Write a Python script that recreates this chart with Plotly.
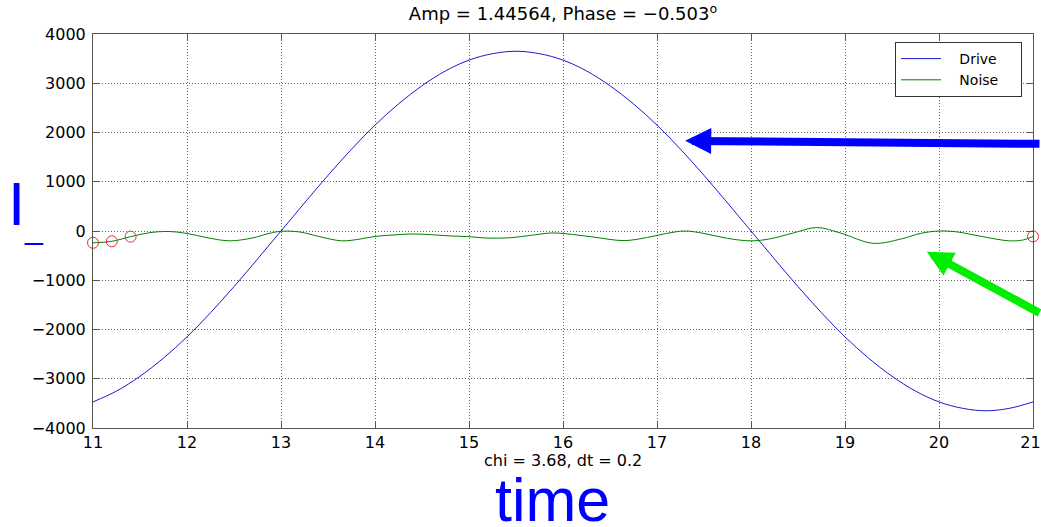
import plotly.graph_objects as go

# ---- data ----
drive_t = [11.0 + 0.25 * i for i in range(41)]
drive_v = [-3470, -3250, -2950, -2580, -2150, -1660, -1130, -570, 0, 570,
           1130, 1660, 2150, 2580, 2950, 3250, 3470, 3600, 3650, 3600,
           3470, 3250, 2950, 2580, 2150, 1660, 1130, 570, 0, -570,
           -1130, -1660, -2150, -2580, -2950, -3250, -3470, -3600, -3650, -3600,
           -3470]

noise_t = [11.0, 11.2, 11.4, 11.6, 11.8, 12.0, 12.2, 12.45, 12.7, 12.85,
           13.0, 13.2, 13.4, 13.65, 13.85, 14.0, 14.2, 14.4, 14.6, 14.8,
           15.0, 15.2, 15.45, 15.65, 15.88, 16.1, 16.35, 16.65, 16.9, 17.1,
           17.3, 17.5, 17.75, 18.0, 18.2, 18.45, 18.7, 18.95, 19.3, 19.6,
           19.8, 20.0, 20.2, 20.45, 20.75, 20.9, 21.0]
noise_v = [-240, -210, -115, -35, -10, -50, -130, -200, -140, -60,
           -5, -20, -110, -200, -160, -110, -80, -60, -75, -100,
           -115, -145, -135, -90, -40, -70, -130, -195, -130, -50,
           0, -50, -150, -200, -160, -40, 70, -40, -250, -160,
           -50, 0, -20, -110, -200, -180, -110]

mark_t = [11.0, 11.2, 11.4, 21.0]
mark_v = [-240, -210, -115, -110]

x_ticks = list(range(11, 22))
y_ticks = list(range(-4000, 4001, 1000))

series_names = ["Drive", "Noise"]
title_text = "Amp = 1.44564, Phase = \u22120.503<sup>o</sup>"
sub_text = "chi = 3.68, dt = 0.2"

FONT = "DejaVu Sans"
W, H = 1041, 527
L, R, T, B = 93, 8, 34, 99
PW, PH = W - L - R, H - T - B


def px(x):
    return (x - L) / PW


def py(y):
    return (H - B - y) / PH


NB = "\u00a0"

fig = go.Figure()
fig.add_trace(go.Scatter(x=drive_t, y=drive_v, mode="lines",
                         name=NB * 3 + series_names[0] + NB * 4,
                         line=dict(color="#1a1ad0", width=1, shape="spline")))
fig.add_trace(go.Scatter(x=noise_t, y=noise_v, mode="lines",
                         name=NB * 3 + series_names[1] + NB * 4,
                         line=dict(color="#008000", width=1, shape="spline")))
fig.add_trace(go.Scatter(x=mark_t, y=mark_v, mode="markers", showlegend=False,
                         cliponaxis=False,
                         marker=dict(symbol="circle-open", size=11,
                                     color="#e03030", line=dict(width=1))))

axis_common = dict(
    showline=True, linecolor="#555", linewidth=1, mirror="ticks",
    ticks="inside", ticklen=6, tickcolor="#555",
    showgrid=True, gridcolor="#666", gridwidth=1, griddash="1px,2px",
    zeroline=False, ticklabeloverflow="allow", automargin=False,
    tickfont=dict(family=FONT, size=16, color="black"),
)

x_ticktext = [str(v) for v in x_ticks]
x_ticktext[-1] = x_ticktext[-1] + NB  # keep the last label inside the page

fig.update_xaxes(range=[11, 21], tickvals=x_ticks, ticktext=x_ticktext,
                 **axis_common)
fig.update_yaxes(range=[-4000, 4000], tickvals=y_ticks,
                 ticktext=[str(v).replace("-", "\u2212") for v in y_ticks],
                 ticklabelstandoff=3, **axis_common)

fig.update_layout(
    width=W, height=H,
    margin=dict(l=L, r=R, t=T, b=B, autoexpand=False),
    plot_bgcolor="white", paper_bgcolor="white",
    title=dict(text=title_text, x=0.5, xref="paper", xanchor="center",
               y=1 - 14 / H, yref="container", yanchor="middle",
               font=dict(family=FONT, size=18, color="black")),
    legend=dict(x=px(1022), xanchor="right", y=py(42), yanchor="top",
                bgcolor="white", bordercolor="#333", borderwidth=1,
                font=dict(family=FONT, size=14, color="black"),
                itemwidth=40, tracegroupgap=0),
    showlegend=True,
)

annotations = [
    dict(text=sub_text, xref="paper", yref="paper", x=px(563), y=py(460),
         xanchor="center", yanchor="middle", showarrow=False,
         font=dict(family=FONT, size=16, color="black")),
    dict(text="time", xref="paper", yref="paper", x=px(552), y=py(500),
         xanchor="center", yanchor="middle", showarrow=False,
         font=dict(family="Liberation Sans", size=61, color="#0000ff")),
    dict(text="I", xref="paper", yref="paper", x=px(16.5), y=py(204),
         xanchor="center", yanchor="middle", showarrow=False,
         font=dict(family="Liberation Sans", size=62, color="#0000ff")),
    dict(text="_", xref="paper", yref="paper", x=px(34), y=py(228),
         xanchor="center", yanchor="middle", showarrow=False,
         font=dict(family="Liberation Sans", size=32, color="#0000ff")),
    # blue arrow pointing at the drive curve
    dict(text="", xref="x", yref="y", x=17.3, y=1830, ax=370, ay=3,
         showarrow=True, arrowhead=2, arrowwidth=8, arrowsize=0.65,
         arrowcolor="#0000ff", standoff=0),
    # green arrow pointing at the noise curve
    dict(text="", xref="x", yref="y", x=19.87, y=-420, ax=135, ay=62,
         showarrow=True, arrowhead=2, arrowwidth=8, arrowsize=0.65,
         arrowcolor="#00ee00", standoff=0),
]
fig.update_layout(annotations=annotations)

fig.write_html("out.html", config={"displayModeBar": False},
               post_script="document.body.style.margin='0';")
